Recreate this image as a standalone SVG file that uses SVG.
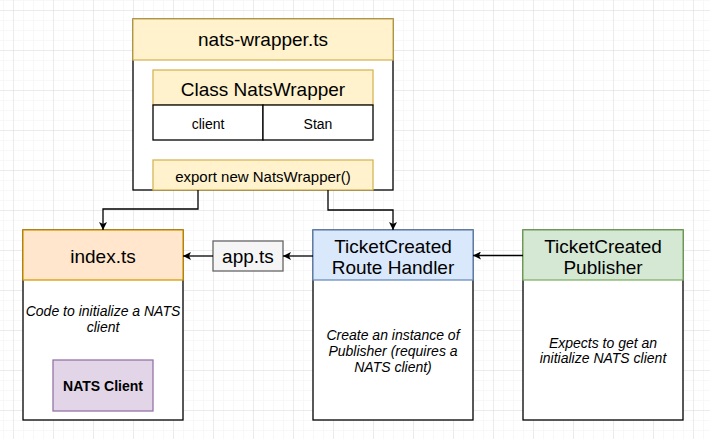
<svg xmlns="http://www.w3.org/2000/svg" width="710" height="439" viewBox="0 0 710 439">
<defs>
<pattern id="minor" width="10" height="10" patternUnits="userSpaceOnUse" x="3" y="0">
<path d="M0,0 H10 M0,0 V10" fill="none" stroke="#f2f2f2" stroke-width="1"/>
</pattern>
<pattern id="major" width="40" height="40" patternUnits="userSpaceOnUse" x="13" y="10">
<path d="M0,0 H40 M0,0 V40" fill="none" stroke="#dddddd" stroke-width="1"/>
</pattern>
<marker id="arr" markerWidth="10" markerHeight="8" refX="8" refY="4" orient="auto" markerUnits="userSpaceOnUse">
<path d="M0,0 L8,4 L0,8 L2,4 Z" fill="#000"/>
</marker>
<style>
text{font-family:"Liberation Sans",Arial,Helvetica,sans-serif;fill:#000;text-anchor:middle}
.t{font-size:19px}
.s{font-size:14px}
.e{font-size:15px}
.i{font-size:14px;font-style:italic}
.b{font-size:14px;font-weight:bold}
.box{fill:#fff;stroke:#000;stroke-width:1.3}
.yel{fill:#fff2cc;stroke:#d6b656;stroke-width:1.3}
.conn path{fill:none;stroke:#000;stroke-width:1.3}
</style>
</defs>
<rect width="710" height="439" fill="#fff"/>
<rect width="710" height="439" fill="url(#minor)"/>
<rect width="710" height="439" fill="url(#major)"/>

<g id="nats-wrapper">
<rect class="box" x="133" y="19" width="260" height="171"/>
<rect class="yel" x="133" y="19" width="260" height="41"/>
<text class="t" x="263" y="46">nats-wrapper.ts</text>
</g>
<g id="class-natswrapper">
<rect class="yel" x="153" y="70" width="220" height="35"/>
<text class="t" x="263" y="95.5">Class NatsWrapper</text>
<rect class="box" x="153" y="105" width="110" height="35"/>
<rect class="box" x="263" y="105" width="110" height="35"/>
<text class="s" x="208" y="129">client</text>
<text class="s" x="318" y="129">Stan</text>
</g>
<g id="export">
<rect class="yel" x="153" y="160" width="220" height="30"/>
<text class="e" x="263" y="182">export new NatsWrapper()</text>
</g>

<g id="index">
<rect class="box" x="23" y="230" width="160" height="190"/>
<rect x="23" y="230" width="160" height="50" fill="#ffe6cc" stroke="#d79b00" stroke-width="1.3"/>
<text class="t" x="103" y="263">index.ts</text>
<text class="i" x="103" y="316">Code to initialize a NATS</text>
<text class="i" x="103" y="332">client</text>
</g>
<g id="nats-client">
<rect x="53" y="360" width="100" height="51" fill="#e1d5e7" stroke="#9673a6" stroke-width="1.3"/>
<text class="b" x="103" y="390.5">NATS Client</text>
</g>

<g id="app">
<rect x="213" y="241" width="70" height="30" fill="#f5f5f5" stroke="#666" stroke-width="1.3"/>
<text class="t" x="248" y="262.5">app.ts</text>
</g>

<g id="route-handler">
<rect class="box" x="313" y="230" width="160" height="190"/>
<rect x="313" y="230" width="160" height="50" fill="#dae8fc" stroke="#6c8ebf" stroke-width="1.3"/>
<text class="t" x="393" y="252.5">TicketCreated</text>
<text class="t" x="393" y="273.5">Route Handler</text>
<text class="i" x="393" y="340">Create an instance of</text>
<text class="i" x="393" y="356">Publisher (requires a</text>
<text class="i" x="393" y="371.5">NATS client)</text>
</g>

<g id="publisher">
<rect class="box" x="523" y="230" width="160" height="190"/>
<rect x="523" y="230" width="160" height="50" fill="#d5e8d4" stroke="#82b366" stroke-width="1.3"/>
<text class="t" x="603" y="252.5">TicketCreated</text>
<text class="t" x="603" y="273.5">Publisher</text>
<text class="i" x="603" y="348">Expects to get an</text>
<text class="i" x="603" y="363">initialize NATS client</text>
</g>

<g class="conn" id="connectors">
<path d="M198,190 V209 H103 V230" marker-end="url(#arr)"/>
<path d="M328,190 V210 H393 V230" marker-end="url(#arr)"/>
<path d="M523,255.5 H473" marker-end="url(#arr)"/>
<path d="M313,256 H283" marker-end="url(#arr)"/>
<path d="M213,256 H183" marker-end="url(#arr)"/>
</g>
</svg>
